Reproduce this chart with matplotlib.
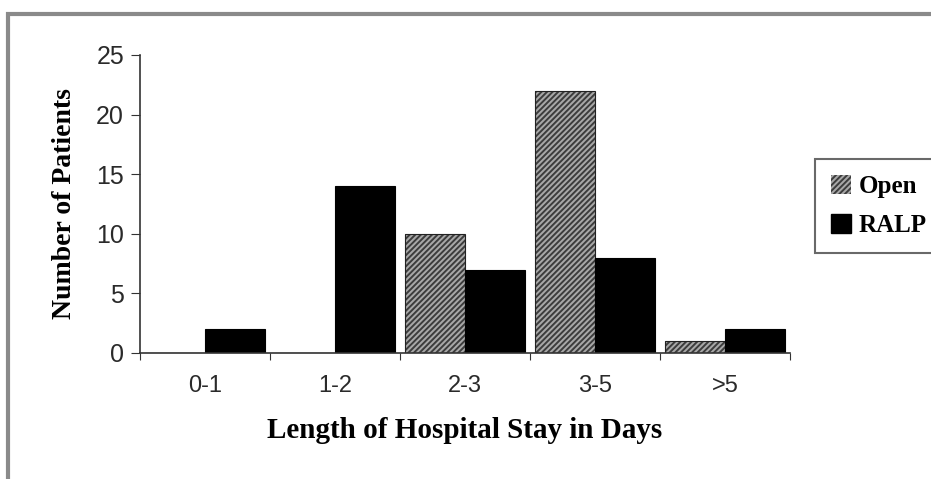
import numpy as np
import matplotlib
matplotlib.use("Agg")
import matplotlib.pyplot as plt
from matplotlib.patches import Rectangle, Patch

# data
categories = ["0-1", "1-2", "2-3", "3-5", ">5"]
open_vals = [0, 0, 10, 22, 1]
ralp_vals = [2, 14, 7, 8, 2]

plt.rcParams['hatch.linewidth'] = 1.4

fig = plt.figure(figsize=(9.31, 4.79), dpi=100)
ax = fig.add_axes([140/931, 1 - 353/479, 650/931, 298/479])

x = np.arange(len(categories)) + 0.5
w = 0.46

# Open: hatched gray, then outline
ax.bar(x - w/2, open_vals, w, color='#a8a8a8', hatch='//////', edgecolor='#3c3c3c', linewidth=0)
ax.bar(x - w/2, open_vals, w, fill=False, edgecolor='#222222', linewidth=0.8)
ax.bar(x + w/2, ralp_vals, w, color='black', edgecolor='black', linewidth=0.8)

ax.set_xlim(0, 5)
ax.set_ylim(0, 25)
ax.set_yticks([0, 5, 10, 15, 20, 25])
ax.set_xticks(np.arange(6))
ax.set_xticklabels([])
ax.set_xticks(x, minor=True)
ax.set_xticklabels(categories, minor=True)
ax.tick_params(axis='x', which='minor', length=0, pad=16, labelsize=17, labelcolor='#2a2a2a')
ax.tick_params(axis='x', which='major', length=5, direction='out', color='#333333')
ax.tick_params(axis='y', length=6.5, direction='out', labelsize=18, labelcolor='#2a2a2a',
               color='#333333', pad=5)
for lab in ax.get_xticklabels(minor=True) + ax.get_yticklabels():
    lab.set_family('Liberation Sans')

for s in ['top', 'right']:
    ax.spines[s].set_visible(False)
for s in ['left', 'bottom']:
    ax.spines[s].set_color('#333333')
    ax.spines[s].set_linewidth(1.2)

ax.set_xlabel("Length of Hospital Stay in Days", family='Liberation Serif',
              fontweight='bold', fontsize=21, labelpad=14)
ax.set_ylabel("Number of Patients", family='Liberation Serif',
              fontweight='bold', fontsize=20, labelpad=14)

handles = [Patch(facecolor='#a8a8a8', hatch='//////', edgecolor='#3c3c3c', linewidth=0),
           Patch(facecolor='black', edgecolor='black')]
leg = fig.legend(handles, ["Open", "RALP"], loc='upper left',
                 bbox_to_anchor=(815/931, 1 - 159/479), frameon=True, fancybox=False,
                 prop={'family': 'Liberation Serif', 'weight': 'bold', 'size': 18},
                 handlelength=0.8, handleheight=0.8, handletextpad=0.3,
                 borderpad=0.65, labelspacing=0.6, borderaxespad=0)
leg.get_frame().set_edgecolor('#444444')
leg.get_frame().set_linewidth(1.5)

# outer gray frame
fig.patches.append(Rectangle((8/931, -0.1), 1.1, 1 - 14/479 + 0.1, transform=fig.transFigure,
                             fill=False, edgecolor='#8a8a8a', linewidth=3))

fig.savefig("out.png", dpi=100)
